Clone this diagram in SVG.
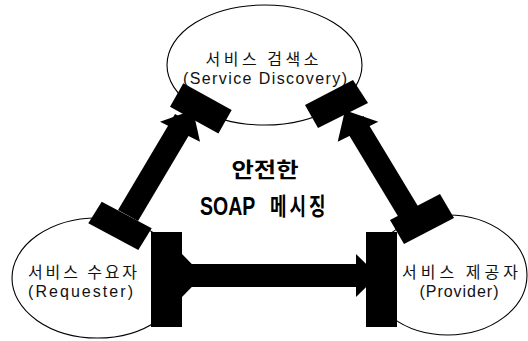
<svg xmlns="http://www.w3.org/2000/svg" width="528" height="341" viewBox="0 0 528 341">
<style>
.node ellipse{fill:none;stroke:#000;stroke-width:1.1}
.ko{font-family:"Noto Sans CJK KR","Liberation Sans",sans-serif;font-size:16px;fill:#111;text-anchor:middle}
.en{font-family:"Liberation Sans","Noto Sans CJK KR",sans-serif;font-size:16px;fill:#111;text-anchor:middle}
.title{font-family:"Noto Sans CJK KR","Liberation Sans",sans-serif;font-weight:bold;fill:#000}
#connectors *{fill:#000;stroke:none}
</style>
<rect width="528" height="341" fill="#fff"/>
<g id="discovery" class="node">
<ellipse cx="264.5" cy="65" rx="97.5" ry="60"/>
<text class="ko" x="262" y="64.5" textLength="113" lengthAdjust="spacing">서비스 검색소</text>
<text class="en" x="265" y="83.5" textLength="164" lengthAdjust="spacing">(Service Discovery)</text>
</g>
<g id="requester" class="node">
<ellipse cx="97.4" cy="278" rx="85.4" ry="60"/>
<text class="ko" x="82.5" y="278" textLength="109" lengthAdjust="spacing">서비스 수요자</text>
<text class="en" x="80.5" y="297" textLength="105" lengthAdjust="spacing">(Requester)</text>
</g>
<g id="provider" class="node">
<ellipse cx="447.8" cy="275" rx="79.2" ry="60"/>
<text class="ko" x="460" y="277.5" textLength="116" lengthAdjust="spacing">서비스 제공자</text>
<text class="en" x="459" y="297" textLength="79" lengthAdjust="spacing">(Provider)</text>
</g>
<g id="connectors">
<rect x="180" y="264" width="190" height="23"/>
<polygon points="182,254 203,275.5 182,297"/>
<polygon points="356,254 378,275.5 356,297"/>
<rect x="151" y="232" width="31" height="95"/>
<rect x="366" y="232" width="31" height="95"/>
<polygon points="101.7,201.7 151.7,228.3 138.3,250 88.3,223.3"/>
<polygon points="118,210 138,221 195,125 175,114"/>
<polygon points="160,121.7 200,141.7 193,110"/>
<polygon points="183.3,83.3 231.7,110 218.4,133.4 170,106.7"/>
<polygon points="305,105 353,80 368,103 318,128"/>
<polygon points="344.7,128 403.3,225 423.3,215 363.5,116"/>
<polygon points="337.7,141.7 378.3,121.7 345,110.3"/>
<polygon points="390,220 440,194 454,218 404,244"/>
</g>
<g id="title">
<text class="title" x="265" y="177" font-size="21" text-anchor="middle" textLength="67" lengthAdjust="spacingAndGlyphs">안전한</text>
<text class="title" transform="translate(200,214.5) scale(0.75,1)" x="0" y="0" font-size="26"><tspan font-family="Liberation Sans">SOAP</tspan> <tspan x="93.3" font-size="24" letter-spacing="4">메시징</tspan></text>
</g>
</svg>
